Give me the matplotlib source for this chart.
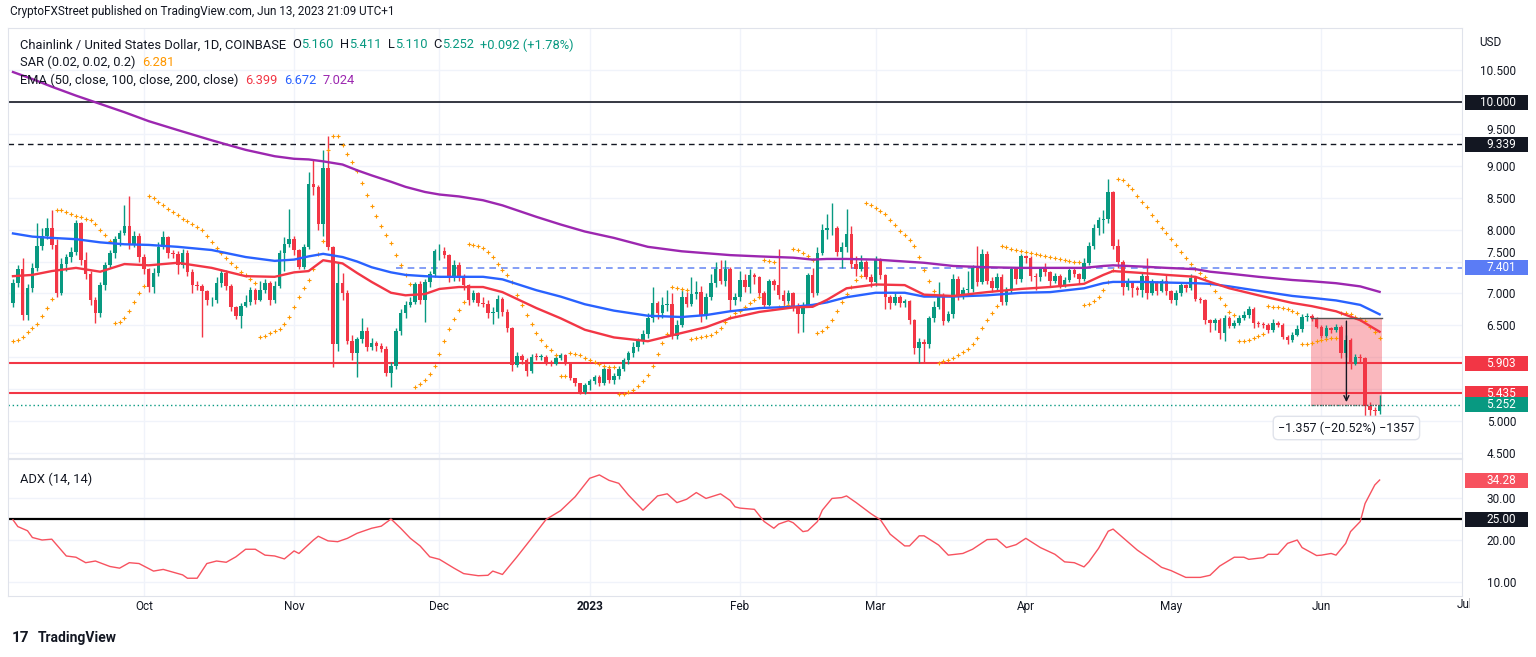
import matplotlib
matplotlib.use("Agg")
import matplotlib.pyplot as plt
from matplotlib.patches import Rectangle
from matplotlib.transforms import blended_transform_factory, Bbox, offset_copy

plt.rcParams['font.family'] = ['Roboto', 'DejaVu Sans']

W, H = 1536, 657

# daily candles LINK/USD, index 0 = 2022-09-04 ... index 282 = 2023-06-13
first_open = 6.85
closes = [7.16, 7.38, 6.66, 7.09, 7.40, 7.75, 7.90, 8.03, 7.76, 7.01,
          7.46, 7.57, 7.65, 8.10, 7.52, 7.30, 6.89, 6.69, 7.13, 7.45,
          7.63, 7.86, 7.95, 8.06, 7.78, 7.90, 7.57, 7.39, 7.10, 7.32,
          7.73, 7.88, 7.63, 7.61, 7.45, 7.64, 7.34, 7.13, 7.12, 7.03,
          6.89, 6.89, 7.17, 7.32, 7.12, 6.78, 6.65, 6.80, 6.87, 7.06,
          6.90, 7.05, 7.17, 6.89, 7.12, 7.64, 7.78, 7.86, 7.68, 7.42,
          7.72, 8.72, 8.66, 8.09, 8.96, 7.72, 6.21, 7.17, 7.01, 6.26,
          6.06, 6.28, 6.41, 6.16, 6.23, 6.17, 6.13, 5.75, 5.86, 6.41,
          6.70, 6.82, 6.86, 7.14, 6.90, 7.18, 7.30, 7.66, 7.67, 7.60,
          7.25, 7.45, 7.27, 7.13, 6.89, 7.00, 6.85, 6.84, 6.70, 6.71,
          6.92, 6.71, 6.45, 5.88, 6.02, 5.95, 5.79, 6.01, 6.00, 6.01,
          5.91, 5.90, 5.98, 6.03, 5.91, 5.67, 5.59, 5.46, 5.56, 5.62,
          5.69, 5.59, 5.81, 5.65, 5.70, 5.82, 5.95, 6.06, 6.16, 6.27,
          6.37, 6.61, 6.85, 6.70, 6.82, 6.83, 6.34, 6.50, 6.94, 6.84,
          6.99, 7.02, 6.66, 6.95, 7.17, 7.38, 7.20, 7.38, 6.90, 6.95,
          7.21, 7.10, 7.29, 7.25, 7.00, 6.82, 7.19, 7.13, 6.97, 6.88,
          7.01, 6.80, 6.67, 6.82, 7.29, 7.01, 7.64, 7.99, 8.02, 8.03,
          7.65, 7.73, 7.93, 7.46, 7.38, 7.50, 7.26, 7.18, 7.52, 7.29,
          6.95, 6.85, 6.95, 6.85, 6.88, 6.58, 6.15, 6.24, 6.21, 6.61,
          6.79, 6.97, 6.57, 6.67, 7.22, 6.95, 7.06, 7.07, 7.40, 7.18,
          7.62, 7.20, 7.08, 7.26, 6.87, 7.05, 7.39, 7.22, 7.58, 7.56,
          7.27, 7.25, 7.38, 7.33, 7.20, 7.27, 7.13, 7.21, 7.36, 7.30,
          7.22, 7.47, 7.74, 8.02, 8.15, 8.17, 8.59, 7.74, 7.50, 7.10,
          7.18, 7.08, 7.06, 7.27, 7.00, 7.18, 7.04, 7.19, 7.03, 6.90,
          7.00, 7.13, 7.08, 7.24, 6.92, 6.90, 6.58, 6.53, 6.59, 6.38,
          6.62, 6.49, 6.54, 6.62, 6.66, 6.76, 6.53, 6.52, 6.51, 6.43,
          6.53, 6.51, 6.32, 6.27, 6.35, 6.44, 6.63, 6.64, 6.61, 6.48,
          6.33, 6.45, 6.43, 6.47, 6.06, 6.27, 5.90, 6.01, 5.98, 5.23,
          5.17, 5.16, 5.252]
highs = [7.22, 7.45, 7.55, 7.15, 7.48, 8.10, 8.02, 8.18, 8.30, 7.85,
         7.55, 7.62, 7.72, 8.15, 8.12, 7.65, 7.35, 6.95, 7.18, 7.50,
         7.68, 7.90, 8.00, 8.38, 8.53, 7.98, 7.95, 7.62, 7.40, 7.40,
         7.80, 7.98, 7.90, 7.68, 7.66, 7.70, 7.68, 7.38, 7.20, 7.15,
         7.05, 6.95, 7.25, 7.38, 7.36, 7.15, 6.80, 6.85, 6.98, 7.10,
         7.08, 7.20, 7.22, 7.20, 7.20, 7.68, 7.88, 8.33, 7.90, 7.70,
         7.78, 8.91, 9.09, 8.70, 9.25, 9.47, 7.75, 7.50, 7.32, 7.05,
         6.35, 6.32, 6.62, 6.48, 6.30, 6.26, 6.22, 6.18, 5.92, 6.45,
         6.76, 6.88, 6.95, 7.18, 7.20, 7.22, 7.35, 7.70, 7.78, 7.72,
         7.62, 7.52, 7.50, 7.30, 7.15, 7.05, 7.02, 6.95, 6.90, 6.78,
         6.98, 6.95, 6.75, 6.48, 6.08, 6.05, 5.98, 6.05, 6.06, 6.05,
         6.03, 5.95, 6.02, 6.06, 6.05, 5.93, 5.68, 5.60, 5.60, 5.66,
         5.72, 5.72, 5.85, 5.84, 5.75, 5.86, 5.98, 6.10, 6.24, 6.30,
         6.42, 6.70, 7.10, 6.88, 6.95, 7.05, 7.00, 6.58, 7.05, 7.02,
         7.25, 7.20, 7.12, 7.00, 7.30, 7.50, 7.52, 7.52, 7.42, 7.00,
         7.35, 7.30, 7.38, 7.32, 7.28, 7.04, 7.23, 7.22, 7.70, 7.05,
         7.05, 7.02, 6.85, 6.86, 7.32, 7.40, 7.72, 8.08, 8.25, 8.41,
         8.05, 7.80, 8.32, 8.05, 7.58, 7.60, 7.52, 7.30, 7.58, 7.55,
         7.30, 6.98, 7.00, 6.97, 6.92, 6.90, 6.60, 6.30, 6.28, 6.65,
         6.88, 7.18, 7.00, 6.72, 7.30, 7.28, 7.10, 7.35, 7.45, 7.74,
         7.70, 7.66, 7.25, 7.32, 7.30, 7.10, 7.42, 7.42, 7.62, 7.60,
         7.58, 7.32, 7.42, 7.48, 7.35, 7.32, 7.30, 7.25, 7.40, 7.40,
         7.32, 7.55, 7.80, 8.08, 8.20, 8.30, 8.80, 8.60, 7.85, 7.52,
         7.24, 7.20, 7.12, 7.32, 7.55, 7.22, 7.20, 7.22, 7.30, 7.05,
         7.05, 7.18, 7.15, 7.30, 7.25, 6.95, 6.92, 6.60, 6.62, 6.62,
         6.66, 6.65, 6.58, 6.66, 6.72, 6.80, 6.78, 6.57, 6.55, 6.54,
         6.60, 6.56, 6.53, 6.35, 6.40, 6.50, 6.68, 6.70, 6.68, 6.63,
         6.50, 6.50, 6.48, 6.52, 6.50, 6.35, 6.30, 6.05, 6.05, 6.00,
         5.30, 5.22, 5.411]
lows = [6.78, 7.10, 6.58, 6.58, 7.02, 7.35, 7.68, 7.85, 7.70, 6.95,
        6.98, 7.35, 7.50, 7.60, 7.45, 7.22, 6.82, 6.53, 6.63, 7.05,
        7.40, 7.55, 7.75, 7.92, 7.70, 7.72, 7.50, 7.30, 7.02, 7.00,
        7.28, 7.70, 7.55, 7.55, 7.30, 7.40, 7.28, 7.00, 7.05, 6.32,
        6.82, 6.80, 6.85, 7.10, 7.05, 6.72, 6.60, 6.45, 6.78, 6.82,
        6.84, 6.88, 7.00, 6.82, 6.85, 7.08, 7.35, 7.72, 7.60, 7.38,
        7.38, 7.70, 8.55, 8.00, 7.90, 7.68, 5.85, 6.10, 6.90, 6.20,
        5.95, 5.69, 6.22, 6.10, 6.12, 6.10, 6.08, 5.70, 5.54, 5.82,
        6.35, 6.62, 6.78, 6.84, 6.84, 6.55, 7.10, 7.25, 7.52, 7.55,
        7.18, 7.20, 7.20, 7.05, 6.82, 6.86, 6.80, 6.78, 6.62, 6.52,
        6.62, 6.65, 6.40, 5.78, 5.84, 5.90, 5.70, 5.75, 5.95, 5.96,
        5.88, 5.86, 5.88, 5.95, 5.88, 5.64, 5.55, 5.42, 5.42, 5.48,
        5.58, 5.55, 5.56, 5.60, 5.58, 5.66, 5.78, 5.90, 6.00, 6.10,
        6.20, 6.30, 6.55, 6.60, 6.62, 6.72, 6.28, 6.28, 6.48, 6.78,
        6.80, 6.92, 6.55, 6.60, 6.90, 7.10, 7.15, 7.12, 6.72, 6.82,
        6.88, 7.02, 7.00, 7.15, 6.95, 6.78, 6.80, 7.05, 6.92, 6.82,
        6.84, 6.72, 6.38, 6.40, 6.78, 6.95, 6.98, 7.60, 7.85, 7.92,
        7.58, 7.40, 7.65, 7.40, 7.28, 7.35, 7.22, 7.10, 7.12, 7.22,
        6.75, 6.75, 6.82, 6.78, 6.78, 6.52, 6.05, 5.91, 5.92, 6.15,
        6.55, 6.75, 6.50, 6.55, 6.62, 6.90, 6.92, 7.00, 7.02, 7.12,
        7.15, 7.15, 7.02, 7.05, 6.82, 6.82, 7.00, 7.15, 7.18, 7.48,
        7.20, 7.06, 7.20, 7.28, 7.12, 7.16, 7.08, 7.10, 7.18, 7.25,
        7.15, 7.20, 7.45, 7.70, 7.92, 7.95, 8.10, 7.70, 7.40, 6.98,
        7.05, 6.95, 6.98, 6.95, 6.92, 6.98, 6.98, 7.02, 6.98, 6.85,
        6.82, 6.96, 7.02, 7.05, 6.88, 6.85, 6.52, 6.40, 6.42, 6.28,
        6.25, 6.45, 6.46, 6.50, 6.58, 6.62, 6.45, 6.48, 6.46, 6.38,
        6.40, 6.47, 6.28, 6.20, 6.24, 6.33, 6.40, 6.56, 6.57, 6.45,
        6.30, 6.30, 6.38, 6.40, 5.98, 6.00, 5.82, 5.88, 5.92, 5.00,
        5.03, 5.06, 5.110]

# EMA readings (day index -> value)
ema_days = [0, 4, 8, 13, 18, 23, 28, 34, 41, 48, 54, 58, 61, 64, 68, 71, 74, 78,
            81, 85, 88, 92, 97, 101, 108, 113, 118, 124, 131, 138, 143, 148, 154,
            161, 165, 168, 172, 178, 184, 188, 194, 201, 208, 214, 221, 225, 227,
            233, 238, 244, 247, 251, 257, 264, 268, 273, 278, 282]
ema50 = [7.27, 7.29, 7.35, 7.40, 7.34, 7.46, 7.44, 7.48, 7.40, 7.27, 7.26, 7.33,
         7.35, 7.52, 7.47, 7.32, 7.18, 7.01, 6.97, 6.99, 7.07, 7.10, 7.10, 7.02,
         6.77, 6.61, 6.43, 6.31, 6.25, 6.38, 6.47, 6.61, 6.71, 6.78, 6.79, 6.90,
         7.08, 7.14, 7.13, 6.98, 6.96, 7.02, 7.07, 7.10, 7.15, 7.29, 7.35, 7.32,
         7.29, 7.26, 7.18, 7.08, 6.97, 6.85, 6.80, 6.72, 6.58, 6.399]
ema100 = [7.94, 7.89, 7.87, 7.85, 7.80, 7.77, 7.76, 7.73, 7.68, 7.57, 7.51, 7.53,
          7.58, 7.62, 7.57, 7.50, 7.41, 7.33, 7.29, 7.27, 7.26, 7.26, 7.26, 7.22,
          7.05, 6.95, 6.83, 6.73, 6.65, 6.63, 6.66, 6.72, 6.77, 6.79, 6.82, 6.86,
          6.94, 7.01, 7.01, 6.95, 6.95, 6.97, 7.01, 7.02, 7.08, 7.16, 7.18, 7.18,
          7.17, 7.16, 7.15, 7.11, 7.04, 6.96, 6.93, 6.89, 6.82, 6.672]
ema200 = [10.47, 10.36, 10.24, 10.10, 9.97, 9.84, 9.70, 9.56, 9.40, 9.25, 9.15,
          9.11, 9.10, 9.07, 9.02, 8.93, 8.85, 8.75, 8.67, 8.59, 8.55, 8.52, 8.46,
          8.38, 8.20, 8.08, 7.97, 7.87, 7.73, 7.66, 7.63, 7.60, 7.58, 7.56, 7.53,
          7.54, 7.54, 7.53, 7.50, 7.48, 7.43, 7.41, 7.40, 7.40, 7.40, 7.43, 7.44,
          7.42, 7.40, 7.38, 7.34, 7.31, 7.26, 7.21, 7.19, 7.16, 7.11, 7.024]

# ADX (14, 14) readings
adx_days = [0, 1, 3, 4, 6, 8, 11, 13, 15, 17, 20, 22, 24, 26, 29, 31, 35, 36, 38,
            40, 42, 44, 46, 48, 50, 52, 54, 56, 58, 59, 62, 63, 65, 67, 69, 71, 74,
            76, 78, 80, 82, 84, 86, 88, 91, 93, 96, 98, 99, 101, 104, 107, 110, 113,
            116, 119, 121, 123, 125, 127, 130, 133, 135, 137, 139, 141, 143, 146,
            148, 149, 150, 153, 155, 157, 158, 160, 161, 163, 164, 166, 167, 169,
            171, 172, 174, 177, 179, 181, 184, 185, 187, 188, 191, 193, 196, 198,
            201, 203, 205, 207, 209, 212, 215, 217, 219, 221, 222, 224, 226, 227,
            230, 232, 235, 237, 239, 242, 245, 247, 249, 252, 254, 255, 258, 259,
            261, 263, 265, 266, 269, 270, 272, 273, 275, 276, 278, 279, 281, 282]
adx_vals = [24.8, 23.2, 22.2, 20.6, 20.0, 20.2, 16.2, 15.9, 14.6, 15.0, 13.7, 13.3,
            14.6, 14.4, 12.6, 13.0, 11.7, 10.9, 10.9, 14.4, 15.0, 14.7, 16.0, 17.8,
            17.8, 16.4, 16.2, 15.5, 17.4, 16.8, 20.0, 20.9, 19.8, 19.6, 20.4, 21.6,
            22.8, 23.3, 25.0, 22.8, 20.4, 18.6, 16.0, 15.4, 13.3, 12.0, 11.5, 11.6,
            12.6, 11.8, 16.0, 20.4, 24.9, 27.0, 30.3, 34.7, 35.5, 34.2, 33.5, 30.7,
            27.1, 30.5, 31.0, 28.9, 29.7, 31.3, 29.9, 31.0, 29.4, 27.9, 27.6, 27.3,
            24.4, 22.8, 23.8, 24.6, 24.1, 22.0, 22.2, 24.4, 27.1, 29.9, 30.1, 30.5,
            28.9, 26.3, 24.8, 21.4, 18.6, 18.6, 21.0, 21.0, 18.8, 16.4, 16.8, 17.8,
            20.1, 20.2, 18.2, 18.9, 20.4, 18.2, 16.6, 14.8, 14.6, 13.6, 14.8, 18.0,
            22.1, 22.6, 19.6, 17.6, 15.2, 13.5, 12.7, 11.1, 11.1, 11.6, 13.8, 15.9,
            15.9, 15.4, 15.8, 16.6, 16.6, 19.2, 20.0, 18.2, 16.3, 16.4, 16.8, 16.4,
            19.2, 22.0, 24.4, 28.7, 33.1, 34.28]

month_idx = [27, 58, 88, 119, 150, 178, 209, 239, 270]
month_lbl = ['Oct', 'Nov', 'Dec', '2023', 'Feb', 'Mar', 'Apr', 'May', 'Jun']
price_ticks = [4.5, 5.0, 5.5, 6.0, 6.5, 7.0, 7.5, 8.0, 8.5, 9.0, 9.5, 10.0, 10.5]
hidden_ticks = [5.5, 6.0, 10.0]   # covered by the boxed labels
nudged_ticks = {7.5: 8, 9.5: 3}   # sit just above a boxed label (px shift)

GREEN, RED = '#089981', '#f23645'
DARK, GRID = '#131722', '#f0f3fa'


def psar(hi, lo, sar0, ep0, af0=0.02, step=0.02, afmax=0.2):
    out = [sar0]
    up, ep, af = True, ep0, af0
    for i in range(1, len(hi)):
        s = out[-1] + af * (ep - out[-1])
        if up:
            s = min(s, lo[i - 1], lo[max(i - 2, 0)])
            if lo[i] < s:
                up, s, ep, af = False, ep, lo[i], af0
            elif hi[i] > ep:
                ep, af = hi[i], min(af + step, afmax)
        else:
            s = max(s, hi[i - 1], hi[max(i - 2, 0)])
            if hi[i] > s:
                up, s, ep, af = True, ep, hi[i], af0
            elif lo[i] < ep:
                ep, af = lo[i], min(af + step, afmax)
        out.append(s)
    return out


opens = [first_open] + closes[:-1]
opens[-1] = 5.160
sar = psar(highs, lows, 6.25, highs[0])

fig = plt.figure(figsize=(W / 100, H / 100), dpi=100)
ax = fig.add_axes([8 / W, (H - 458) / H, 1454 / W, 430 / H])
ax2 = fig.add_axes([8 / W, (H - 596) / H, 1454 / W, 137 / H])

XL = (-1.03, 299.0)
for a in (ax, ax2):
    a.set_xlim(*XL)
    a.set_xticks(month_idx)
    a.grid(True, color=GRID, lw=1)
    a.yaxis.tick_right()
    a.tick_params(length=0, labelsize=8.5, colors=DARK)
    for side in a.spines:
        a.spines[side].set_color('#e0e3eb')

ax.set_ylim(4.42, 11.16)
ax.set_yticks(price_ticks)
ax.set_yticklabels(['' if (v in hidden_ticks or v in nudged_ticks) else '%.3f' % v
                    for v in price_ticks])
ax.tick_params(axis='x', labelbottom=False)
ax.tick_params(axis='y', pad=39)
for lab in ax.get_yticklabels():
    lab.set_horizontalalignment('right')

tr_right = blended_transform_factory(ax.transAxes, ax.transData)
for v, dy in nudged_ticks.items():
    ax.text(1.0371, v, '%.3f' % v, ha='right', va='center', fontsize=8.5, color=DARK,
            transform=offset_copy(tr_right, fig=fig, y=dy, units='dots'), clip_on=False)

ax2.set_ylim(6.67, 39.29)
ax2.set_yticks([10, 20, 30])
ax2.set_yticklabels(['10.00', '20.00', '30.00'])
ax2.tick_params(axis='y', pad=39)
for lab in ax2.get_yticklabels():
    lab.set_horizontalalignment('right')
ax2.set_xticklabels(month_lbl)
ax2.tick_params(axis='x', pad=3)
for lab in ax2.get_xticklabels():
    if lab.get_text() == '2023':
        lab.set_fontweight('bold')

# candles
for i in range(len(closes)):
    o, c = opens[i], closes[i]
    col = GREEN if c >= o else RED
    ax.vlines(i, lows[i], highs[i], color=col, lw=1, zorder=3)
    ax.bar(i, max(abs(c - o), 0.012), bottom=min(o, c), width=0.72, color=col,
           zorder=3, linewidth=0)

days = list(range(len(closes)))
ax.plot(days, sar, ls='none', marker='+', ms=2.6, mew=0.8, color='#ff9800', zorder=4)
ax.plot(ema_days, ema200, color='#9c27b0', lw=1.7, zorder=4)
ax.plot(ema_days, ema100, color='#2962ff', lw=1.7, zorder=4)
ax.plot(ema_days, ema50, color=RED, lw=1.7, zorder=4)

ax.axhline(10.0, color=DARK, lw=1.2, zorder=2)
ax.axhline(9.339, color=DARK, lw=1.0, ls=(0, (4, 3)), zorder=2)
ax.plot([79, XL[1]], [7.401, 7.401], color='#6f8ef5', lw=1.2, ls=(0, (4, 3)), zorder=2)
ax.axhline(5.903, color=RED, lw=1.5, zorder=2)
ax.axhline(5.435, color=RED, lw=1.5, zorder=2)
ax.axhline(5.252, color=GREEN, lw=1, ls=(0, (1, 2)), zorder=2)

# price range measurement
m0, m1, top, bot = 267.9, 282.4, 6.609, 5.252
ax.add_patch(Rectangle((m0, bot), m1 - m0, top - bot, facecolor=RED, alpha=0.35,
                       lw=0, zorder=2.5))
ax.plot([m0, m1], [top, top], color='#555555', lw=1, zorder=5)
ax.plot([m0, m1], [bot, bot], color='#555555', lw=1, ls=(0, (1, 1)), zorder=5)
mid = (m0 + m1) / 2
ax.annotate('', xy=(mid, bot), xytext=(mid, top),
            arrowprops=dict(arrowstyle='->', color=DARK, lw=1, mutation_scale=9), zorder=5)
ax.text(mid, 4.89, '\u22121.357 (\u221220.52%) \u22121357', ha='center', va='center',
        fontsize=9, color=DARK, zorder=6,
        bbox=dict(boxstyle='round,pad=0.4', fc='white', ec='#e0e3eb', lw=1))

# ADX panel
ax2.plot(adx_days, adx_vals, color='#f7525f', lw=1, zorder=3)
ax2.axhline(25, color='black', lw=1.6, zorder=2)


def price_box(a, y, txt, col, h):
    tr = blended_transform_factory(a.transAxes, a.transData)
    a.add_patch(Rectangle((1.0021, y - h / 2), 0.0433, h, transform=tr, facecolor=col,
                          edgecolor='none', clip_on=False, zorder=8))
    a.text(1.0371, y, txt, transform=tr, ha='right', va='center', color='white',
           fontsize=8.5, clip_on=False, zorder=9)


hm = 15 / 63.8
price_box(ax, 10.0, '10.000', DARK, hm)
price_box(ax, 9.339, '9.339', DARK, hm)
price_box(ax, 7.401, '7.401', '#5b7cf5', hm)
price_box(ax, 5.903, '5.903', RED, hm)
price_box(ax, 5.435, '5.435', RED, hm)
price_box(ax, 5.252, '5.252', GREEN, hm)
ha = 15 / 4.2
price_box(ax2, 34.28, '34.28', '#f7525f', ha)
price_box(ax2, 25.0, '25.00', DARK, ha)

fig.text(1490 / W, 1 - 42 / H, 'USD', ha='center', va='center', fontsize=8.5, color=DARK)

jl = fig.text(1465 / W, 1 - 605 / H, 'Jul', ha='center', va='center', fontsize=8.5, color=DARK)
jl.set_clip_box(Bbox([[0, 0], [1470, H]]))
jl.set_clip_on(True)


def chain(x, y, pieces, size=9.25):
    t = fig.text(x / W, 1 - y / H, pieces[0][0], color=pieces[0][1], fontsize=size,
                 ha='left', va='center')
    for txt, col, gap in pieces[1:]:
        t = ax.annotate(txt, xy=(1, 0.5), xycoords=t, xytext=(gap, 0),
                        textcoords='offset points', color=col, fontsize=size,
                        ha='left', va='center', annotation_clip=False)
    return t


chain(20, 45, [('Chainlink / United States Dollar, 1D, COINBASE', DARK),
               ('O', DARK, 4.5), ('5.160', GREEN, 0), ('H', DARK, 4.5), ('5.411', GREEN, 0),
               ('L', DARK, 4.5), ('5.110', GREEN, 0), ('C', DARK, 4.5), ('5.252', GREEN, 0),
               ('+0.092 (+1.78%)', GREEN, 4.5)])
chain(20, 62, [('SAR (0.02, 0.02, 0.2)', DARK), ('6.281', '#ff9800', 5)])
chain(20, 80, [('EMA (50, close, 100, close, 200, close)', DARK), ('6.399', RED, 5),
               ('6.672', '#2962ff', 4.5), ('7.024', '#9c27b0', 4.5)])
chain(20, 479, [('ADX (14, 14)', DARK), ('34.28', '#f7525f', 5)])

fig.text(10 / W, 1 - 12 / H, 'CryptoFXStreet published on TradingView.com, Jun 13, 2023 21:09 UTC+1',
         fontsize=8.5, color=DARK, ha='left', va='center')
fig.text(12 / W, 1 - 638 / H, '17', fontsize=11, fontweight='bold', color=DARK,
         ha='left', va='center')
fig.text(38 / W, 1 - 638 / H, 'TradingView', fontsize=10, fontweight='bold', color=DARK,
         ha='left', va='center')

fig.savefig('out.png', dpi=100, facecolor='white')
